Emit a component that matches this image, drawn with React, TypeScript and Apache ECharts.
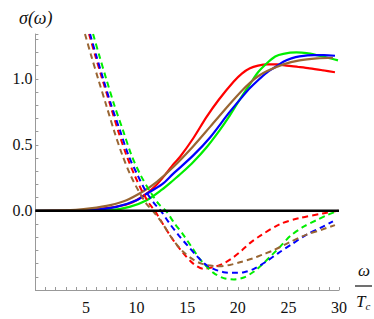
import React, { useEffect, useRef } from "react";
import * as echarts from "echarts";

const xTicks = [5, 10, 15, 20, 25, 30];
const yTickLabels = [0, 0.5, 1.0];

const redSolid = [[0,0],[3,0.002],[5,0.006],[7,0.02],[9.3,0.056],[10.8,0.12],[12,0.2],[13,0.29],[13.6,0.35],[14.3,0.41],[15.6,0.55],[16.9,0.71],[18.1,0.84],[19.6,0.98],[20.4,1.04],[21.2,1.08],[22.0,1.10],[22.9,1.11],[23.9,1.11],[24.8,1.10],[26,1.09],[27.1,1.08],[28.4,1.065],[29.6,1.05]];
const greenSolid = [[0,0],[4,0.001],[7.4,0.005],[9.3,0.03],[11.0,0.08],[12.5,0.16],[13.6,0.23],[14.5,0.29],[15.6,0.37],[16.9,0.48],[18.2,0.61],[19.1,0.71],[20.0,0.82],[21.2,0.96],[22.0,1.05],[22.9,1.12],[23.7,1.17],[24.5,1.19],[25.8,1.20],[26.8,1.195],[27.8,1.18],[28.9,1.16],[29.9,1.14]];
const blueSolid = [[0,0],[3,0.001],[5.4,0.005],[8.0,0.03],[10.0,0.08],[11.0,0.13],[12.5,0.2],[13.6,0.28],[15.6,0.42],[17.3,0.56],[19.1,0.74],[20.4,0.86],[21.2,0.93],[22.0,0.99],[22.9,1.05],[23.7,1.09],[24.5,1.13],[25.3,1.155],[26.1,1.17],[27.5,1.18],[28.5,1.18],[29.6,1.175]];
const brownSolid = [[0,0],[2,0.001],[4,0.008],[5.4,0.018],[7.4,0.043],[9.0,0.08],[10.7,0.15],[12,0.22],[13.6,0.33],[15.6,0.49],[17.3,0.64],[19.1,0.80],[20.4,0.91],[21.2,0.97],[22.0,1.02],[22.9,1.06],[24.5,1.11],[26.1,1.14],[27.8,1.155],[29.4,1.16]];

const redDashed = [[5.3,1.34],[5.9,1.18],[6.6,1.0],[7.4,0.8],[8.2,0.6],[9.0,0.42],[9.8,0.27],[10.6,0.14],[11.3,0.05],[11.8,0],[12.6,-0.1],[13.6,-0.22],[14.6,-0.32],[15.6,-0.40],[16.6,-0.44],[17.9,-0.42],[18.8,-0.39],[19.6,-0.35],[20.4,-0.30],[21.2,-0.245],[22.2,-0.19],[24.2,-0.10],[26.1,-0.055],[28.4,-0.02],[29.9,0]];
const greenDashed = [[5.7,1.34],[6.3,1.18],[7.0,1.0],[7.8,0.8],[8.7,0.6],[9.5,0.42],[10.4,0.27],[11.3,0.15],[12.2,0.05],[12.9,0],[13.7,-0.09],[14.6,-0.18],[15.4,-0.27],[16.4,-0.38],[17.6,-0.47],[18.6,-0.51],[19.6,-0.52],[20.6,-0.505],[21.6,-0.46],[22.5,-0.40],[23.3,-0.34],[24.2,-0.27],[25.2,-0.19],[26.5,-0.12],[27.8,-0.07],[28.9,-0.03],[29.9,0]];
const blueDashed = [[5.4,1.34],[6.0,1.18],[6.7,1.0],[7.5,0.8],[8.4,0.6],[9.2,0.42],[10.1,0.27],[10.9,0.15],[11.8,0.05],[12.4,0],[13.2,-0.09],[14.2,-0.19],[15.0,-0.26],[15.8,-0.33],[16.7,-0.40],[17.6,-0.44],[18.6,-0.465],[19.6,-0.47],[20.6,-0.465],[21.6,-0.44],[22.9,-0.38],[24.0,-0.32],[25.2,-0.26],[26.8,-0.18],[28.4,-0.12],[29.4,-0.08]];
const brownDashed = [[4.9,1.34],[5.5,1.18],[6.2,1.0],[7.0,0.8],[7.8,0.6],[8.6,0.42],[9.4,0.27],[10.2,0.15],[11.0,0.05],[11.6,0],[12.5,-0.09],[13.6,-0.22],[14.6,-0.31],[15.6,-0.37],[16.4,-0.40],[17.3,-0.415],[18.2,-0.42],[19.2,-0.41],[20.2,-0.39],[21.5,-0.36],[22.5,-0.33],[23.5,-0.30],[25.2,-0.235],[26.8,-0.18],[28.4,-0.14],[29.6,-0.108]];
const zeroLine = [[0,0],[30,0]];

const RED = "#ff0000";
const GREEN = "#00ee00";
const BLUE = "#0000ff";
const BROWN = "#996633";
const SERIF = "Liberation Serif";

function App() {
  const ref = useRef<HTMLDivElement>(null);
  useEffect(() => {
    if (!ref.current) return;
    const chart = echarts.init(ref.current, null, { renderer: "svg" });
    const solid = (name: string, data: number[][], color: string) => ({
      name, type: "line", data, smooth: 0.3, symbol: "none", clip: true,
      lineStyle: { color, width: 2.2 },
    });
    const dashed = (name: string, data: number[][], color: string) => ({
      name, type: "line", data, smooth: 0.3, symbol: "none", clip: true,
      lineStyle: { color, width: 2, type: [6, 4] },
    });
    chart.setOption({
      animation: false,
      backgroundColor: "#ffffff",
      grid: { left: 35.4, right: 35, top: 34, bottom: 29 },
      xAxis: {
        type: "value", min: 0, max: 30, interval: 1,
        axisLine: { onZero: false, lineStyle: { color: "#999", width: 1 } },
        axisTick: { inside: true, length: 3, lineStyle: { color: "#999" } },
        splitLine: { show: false },
        axisLabel: {
          margin: 9, color: "#111", fontFamily: SERIF, fontSize: 16,
          formatter: (v: number) => (xTicks.includes(Math.round(v)) && Math.abs(v - Math.round(v)) < 1e-6 ? String(Math.round(v)) : ""),
        },
      },
      yAxis: {
        type: "value", min: -0.6, max: 1.34, interval: 0.1,
        axisLine: { onZero: false, lineStyle: { color: "#999", width: 1 } },
        axisTick: { inside: true, length: 3, lineStyle: { color: "#999" } },
        splitLine: { show: false },
        axisLabel: {
          margin: 3, color: "#111", fontFamily: SERIF, fontSize: 16,
          formatter: (v: number) => {
            const m = yTickLabels.find((t) => Math.abs(t - v) < 1e-6);
            return m === undefined ? "" : m.toFixed(1);
          },
        },
      },
      series: [
        solid("redSolid", redSolid, RED),
        solid("greenSolid", greenSolid, GREEN),
        solid("blueSolid", blueSolid, BLUE),
        solid("brownSolid", brownSolid, BROWN),
        dashed("redDashed", redDashed, RED),
        dashed("greenDashed", greenDashed, GREEN),
        dashed("blueDashed", blueDashed, BLUE),
        dashed("brownDashed", brownDashed, BROWN),
        { name: "zero", type: "line", data: zeroLine, symbol: "none", lineStyle: { color: "#000", width: 2.5 }, z: 5 },
      ],
      graphic: [
        { type: "text", left: 19, top: 9, style: { text: "σ(ω)", fontFamily: SERIF, fontStyle: "italic", fontSize: 18, fill: "#111" } },
        { type: "text", left: 358, top: 262, style: { text: "ω", fontFamily: SERIF, fontStyle: "italic", fontSize: 17, fill: "#111" } },
        { type: "line", shape: { x1: 355, y1: 286, x2: 372, y2: 286 }, style: { stroke: "#111", lineWidth: 1.2 } },
        { type: "text", left: 356, top: 293, style: { text: "{t|T}{c|c}", rich: { t: { fontFamily: SERIF, fontStyle: "italic", fontSize: 17, fill: "#111" }, c: { fontFamily: SERIF, fontStyle: "italic", fontSize: 11, fill: "#111", padding: [8, 0, 0, 0] } } } },
      ],
    });
    return () => chart.dispose();
  }, []);
  return <div ref={ref} style={{ position: "absolute", left: 0, top: 0, width: 374, height: 319 }} />;
}

export default App;
